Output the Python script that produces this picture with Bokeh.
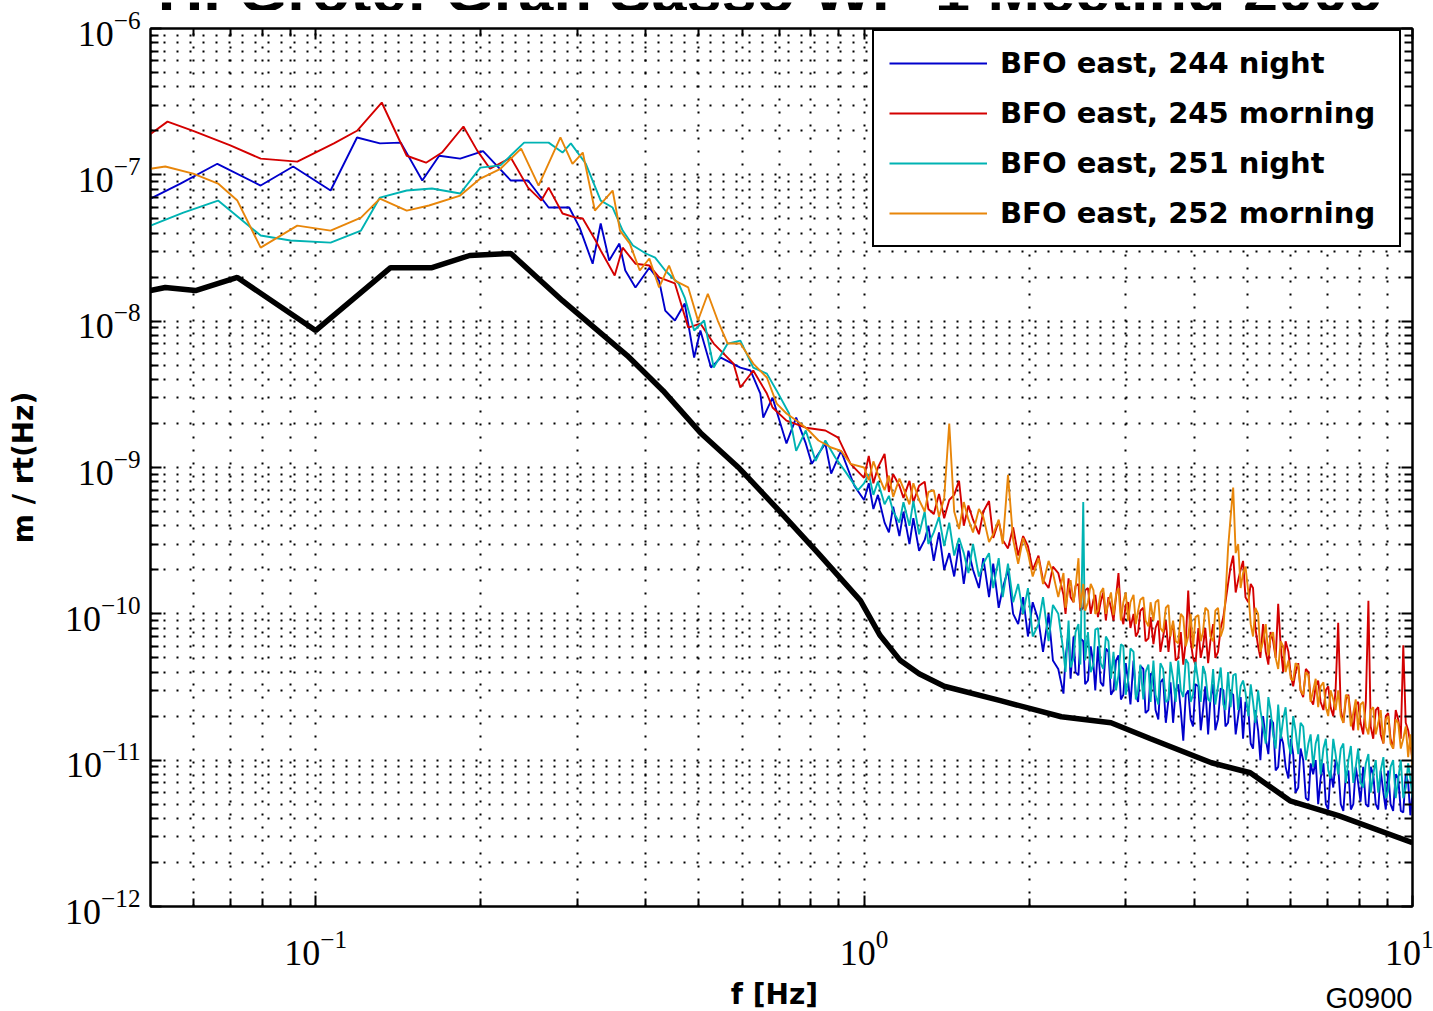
from bokeh.plotting import figure
from bokeh.layouts import column
from bokeh.models import (Range1d, LogAxis, FixedTicker, Label, Legend, LegendItem,
                          CustomJSTickFormatter)
from bokeh.embed import file_html
from bokeh.resources import INLINE

# ---------------- data ----------------
series_labels = ["BFO east, 244 night", "BFO east, 245 morning",
                 "BFO east, 251 night", "BFO east, 252 morning"]

freq_lo_244 = [0.050, 0.0567, 0.0662, 0.0794, 0.091, 0.1065, 0.119, 0.131, 0.143, 0.1565,
               0.168, 0.1835, 0.202, 0.227, 0.244, 0.266, 0.290, 0.303, 0.320, 0.331,
               0.343, 0.358, 0.367, 0.383, 0.406, 0.423, 0.434, 0.452, 0.471, 0.490,
               0.503, 0.526, 0.548, 0.595, 0.621, 0.647, 0.655, 0.681, 0.722, 0.752,
               0.783, 0.803, 0.850, 0.871, 0.908, 0.960]
amp_lo_244 = [6.88e-8, 8.72e-8, 1.19e-7, 8.45e-8, 1.14e-7, 7.81e-8, 1.8e-7, 1.64e-7, 1.66e-7, 9.14e-8,
              1.35e-7, 1.29e-7, 1.45e-7, 9.14e-8, 9.14e-8, 5.98e-8, 5.98e-8, 4.36e-8, 2.47e-8, 4.65e-8,
              2.6e-8, 3.39e-8, 2.22e-8, 1.7e-8, 2.32e-8, 1.89e-8, 1.18e-8, 1.01e-8, 1.32e-8, 5.64e-9,
              8.63e-9, 4.82e-9, 5.64e-9, 4.82e-9, 4.6e-9, 3.2e-9, 2.19e-9, 3.0e-9, 1.46e-9, 2.19e-9,
              1.46e-9, 1.06e-9, 1.46e-9, 9.08e-10, 1.3e-9, 7.5e-10]

freq_lo_245 = [0.050, 0.0537, 0.0598, 0.0699, 0.0794, 0.0926, 0.108, 0.119, 0.132, 0.1466,
               0.159, 0.170, 0.186, 0.197, 0.208, 0.227, 0.244, 0.258, 0.266, 0.282,
               0.298, 0.307, 0.324, 0.331, 0.351, 0.363, 0.383, 0.406, 0.423, 0.452,
               0.478, 0.503, 0.532, 0.578, 0.595, 0.628, 0.665, 0.681, 0.722, 0.783,
               0.850, 0.897, 0.945]
amp_lo_245 = [1.9e-7, 2.31e-7, 2.0e-7, 1.59e-7, 1.29e-7, 1.23e-7, 1.64e-7, 2.0e-7, 3.12e-7, 1.35e-7,
              1.21e-7, 1.42e-7, 2.14e-7, 1.47e-7, 1.10e-7, 1.31e-7, 8.18e-8, 6.67e-8, 8.18e-8, 5.44e-8,
              5.1e-8, 5.03e-8, 3.56e-8, 3.04e-8, 2.05e-8, 3.18e-8, 2.47e-8, 2.4e-8, 1.99e-8, 1.81e-8,
              9.04e-9, 9.63e-9, 7.03e-9, 5.13e-9, 3.52e-9, 4.6e-9, 3.2e-9, 2.57e-9, 2.09e-9, 1.87e-9,
              1.79e-9, 1.6e-9, 1.06e-9]

freq_lo_251 = [0.050, 0.0574, 0.0664, 0.0794, 0.090, 0.1065, 0.121, 0.131, 0.1466, 0.163,
               0.1835, 0.1997, 0.2173, 0.240, 0.266, 0.282, 0.292, 0.311, 0.331, 0.348,
               0.363, 0.379, 0.400, 0.416, 0.434, 0.459, 0.471, 0.490, 0.511, 0.532,
               0.564, 0.595, 0.628, 0.665, 0.693, 0.730, 0.752, 0.783, 0.816, 0.850,
               0.886, 0.922, 0.975]
amp_lo_251 = [4.5e-8, 5.52e-8, 6.67e-8, 3.85e-8, 3.56e-8, 3.44e-8, 4.16e-8, 6.99e-8, 7.81e-8, 8.06e-8,
              7.45e-8, 1.12e-7, 1.16e-7, 1.66e-7, 1.66e-7, 1.42e-7, 1.64e-7, 1.19e-7, 6.67e-8, 5.98e-8,
              4.16e-8, 3.29e-8, 2.9e-8, 2.72e-8, 2.22e-8, 1.81e-8, 1.45e-8, 8.63e-9, 1.01e-8, 4.82e-9,
              7.03e-9, 7.37e-9, 4.82e-9, 4.38e-9, 3.35e-9, 2.34e-9, 1.3e-9, 1.79e-9, 1.11e-9, 1.53e-9,
              1.17e-9, 9.52e-10, 7.0e-10]

freq_lo_252 = [0.050, 0.0532, 0.0598, 0.0664, 0.072, 0.0794, 0.0926, 0.1065, 0.121, 0.131,
               0.1466, 0.161, 0.1835, 0.1997, 0.2173, 0.237, 0.255, 0.2795, 0.294, 0.307,
               0.323, 0.348, 0.359, 0.374, 0.390, 0.406, 0.423, 0.441, 0.452, 0.478,
               0.498, 0.519, 0.541, 0.564, 0.595, 0.628, 0.665, 0.693, 0.722, 0.766,
               0.793, 0.826, 0.871, 0.908, 0.945]
amp_lo_252 = [1.10e-7, 1.14e-7, 1.02e-7, 8.72e-8, 6.67e-8, 3.18e-8, 4.5e-8, 4.16e-8, 5.1e-8, 6.88e-8,
              5.7e-8, 6.17e-8, 7.22e-8, 9.43e-8, 1.10e-7, 1.51e-7, 8.45e-8, 1.8e-7, 1.19e-7, 1.42e-7,
              5.7e-8, 7.81e-8, 4.16e-8, 3.39e-8, 2.22e-8, 2.68e-8, 1.7e-8, 2.4e-8, 1.89e-8, 1.7e-8,
              1.01e-8, 1.54e-8, 1.01e-8, 7.03e-9, 7.03e-9, 5.13e-9, 4.12e-9, 2.73e-9, 2.34e-9, 2.0e-9,
              1.79e-9, 1.53e-9, 1.37e-9, 1.3e-9, 1.06e-9]

freq_hi = [1.00, 1.02, 1.04, 1.06, 1.09, 1.11, 1.13, 1.16, 1.18, 1.21,
           1.23, 1.26, 1.29, 1.31, 1.34, 1.37, 1.40, 1.43, 1.46, 1.49,
           1.52, 1.55, 1.58, 1.62, 1.65, 1.69, 1.72, 1.76, 1.79, 1.83,
           1.87, 1.91, 1.95, 1.99, 2.03, 2.08, 2.12, 2.17, 2.21, 2.26,
           2.31, 2.36, 2.41, 2.46, 2.51, 2.56, 2.62, 2.67, 2.73, 2.79,
           2.85, 2.91, 2.97, 3.03, 3.10, 3.16, 3.23, 3.30, 3.37, 3.44,
           3.51, 3.59, 3.66, 3.74, 3.82, 3.90, 3.98, 4.07, 4.15, 4.24,
           4.33, 4.42, 4.52, 4.61, 4.71, 4.81, 4.91, 5.02, 5.12, 5.23,
           5.34, 5.46, 5.57, 5.69, 5.81, 5.94, 6.06, 6.19, 6.32, 6.46,
           6.59, 6.73, 6.88, 7.02, 7.17, 7.32, 7.48, 7.64, 7.80, 7.96,
           8.13, 8.31, 8.48, 8.66, 8.85, 9.03, 9.22, 9.42, 9.62, 9.82,
           10.0]

amp_hi_244 = [6.0e-10, 7.8e-10, 5.2e-10, 6.5e-10, 4.2e-10, 3.6e-10, 5.4e-10, 3.4e-10, 5.0e-10, 3.0e-10,
              4.5e-10, 2.7e-10, 3.2e-10, 4.0e-10, 2.3e-10, 3.6e-10, 2.0e-10, 2.6e-10, 1.8e-10, 3.0e-10,
              1.6e-10, 2.7e-10, 2.0e-10, 1.5e-10, 2.4e-10, 1.3e-10, 2.2e-10, 1.1e-10, 1.5e-10, 2.0e-10,
              1.0e-10, 8.5e-11, 1.3e-10, 7.0e-11, 1.2e-10, 9.0e-11, 5.5e-11, 1.0e-10, 4.8e-11, 4.2e-11,
              2.85e-11, 7.5e-11, 7.0e-11, 3.8e-11, 6.5e-11, 3.5e-11, 4.5e-11, 6.0e-11, 3.2e-11, 5.5e-11,
              3.0e-11, 5.2e-11, 2.8e-11, 3.5e-11, 4.8e-11, 2.5e-11, 4.2e-11, 2.2e-11, 3.8e-11, 1.9e-11,
              3.6e-11, 2.6e-11, 1.8e-11, 3.3e-11, 1.36e-11, 3.0e-11, 1.7e-11, 3.2e-11, 2.2e-11, 1.5e-11,
              3.3e-11, 1.9e-11, 3.0e-11, 1.8e-11, 2.8e-11, 2.0e-11, 1.4e-11, 2.2e-11, 1.2e-11, 1.6e-11,
              2.0e-11, 1.1e-11, 1.8e-11, 9.0e-12, 1.3e-11, 7.5e-12, 1.1e-11, 6.5e-12, 1.0e-11, 5.3e-12,
              8.0e-12, 5.0e-12, 9.5e-12, 4.6e-12, 6.5e-12, 9.0e-12, 4.5e-12, 8.5e-12, 5.0e-12, 7.0e-12,
              9.0e-12, 4.8e-12, 8.0e-12, 4.6e-12, 6.0e-12, 8.5e-12, 4.5e-12, 7.5e-12, 4.4e-12, 7.0e-12,
              6.0e-12]

amp_hi_245 = [8.5e-10, 1.2e-9, 7.8e-10, 1.0e-9, 1.24e-9, 6.8e-10, 9.0e-10, 7.5e-10, 6.2e-10, 8.1e-10,
              5.8e-10, 7.5e-10, 8.0e-10, 5.2e-10, 4.8e-10, 6.6e-10, 4.5e-10, 6.0e-10, 6.5e-10, 8.1e-10,
              4.0e-10, 5.5e-10, 4.4e-10, 3.5e-10, 5.0e-10, 5.9e-10, 3.3e-10, 4.3e-10, 3.2e-10, 2.8e-10,
              3.9e-10, 2.5e-10, 3.4e-10, 2.9e-10, 2.0e-10, 2.5e-10, 1.7e-10, 1.5e-10, 2.1e-10, 1.9e-10,
              1.35e-10, 1.75e-10, 1.2e-10, 1.6e-10, 1.1e-10, 1.5e-10, 1.25e-10, 9.5e-11, 1.4e-10, 1.3e-10,
              9.0e-11, 1.9e-10, 8.5e-11, 1.2e-10, 1.0e-10, 7.5e-11, 1.1e-10, 6.8e-11, 6.2e-11, 9.0e-11,
              7.0e-11, 5.5e-11, 8.5e-11, 5.0e-11, 4.5e-11, 1.44e-10, 5.0e-11, 8.0e-11, 6.0e-11, 4.6e-11,
              8.5e-11, 5.5e-11, 9.5e-11, 1.6e-10, 2.5e-10, 1.7e-10, 2.3e-10, 1.2e-10, 1.5e-10, 6.0e-11,
              8.5e-11, 4.5e-11, 6.5e-11, 1.17e-10, 4.0e-11, 5.5e-11, 3.2e-11, 4.6e-11, 2.7e-11, 4.0e-11,
              2.4e-11, 3.5e-11, 2.2e-11, 3.2e-11, 2.0e-11, 8.7e-11, 1.8e-11, 2.8e-11, 1.6e-11, 2.5e-11,
              1.5e-11, 1.23e-10, 1.4e-11, 2.3e-11, 1.3e-11, 2.1e-11, 1.2e-11, 1.9e-11, 6.1e-11, 1.6e-11,
              1.0e-11]

amp_hi_251 = [7.8e-10, 9.0e-10, 6.5e-10, 8.0e-10, 5.6e-10, 6.4e-10, 5.0e-10, 4.2e-10, 5.8e-10, 4.0e-10,
              5.9e-10, 3.5e-10, 5.0e-10, 3.0e-10, 3.6e-10, 4.6e-10, 2.9e-10, 4.2e-10, 2.5e-10, 3.3e-10,
              2.6e-10, 1.9e-10, 3.0e-10, 1.8e-10, 2.2e-10, 2.6e-10, 1.5e-10, 2.4e-10, 1.3e-10, 2.2e-10,
              1.2e-10, 1.6e-10, 1.0e-10, 1.5e-10, 7.0e-11, 8.5e-11, 1.3e-10, 6.5e-11, 1.15e-10, 1.0e-10,
              5.5e-11, 9.0e-11, 5.0e-11, 8.5e-11, 5.8e-10, 7.5e-11, 4.5e-11, 8.0e-11, 4.2e-11, 6.5e-11,
              5.5e-11, 3.8e-11, 6.0e-11, 3.5e-11, 5.5e-11, 3.0e-11, 2.6e-11, 4.5e-11, 4.8e-11, 2.4e-11,
              4.2e-11, 2.6e-11, 3.6e-11, 4.8e-11, 2.7e-11, 4.6e-11, 2.8e-11, 3.4e-11, 4.4e-11, 2.6e-11,
              4.2e-11, 3.2e-11, 2.4e-11, 4.0e-11, 3.8e-11, 2.2e-11, 3.5e-11, 2.0e-11, 2.5e-11, 3.0e-11,
              1.7e-11, 2.7e-11, 1.5e-11, 2.4e-11, 1.9e-11, 1.3e-11, 2.0e-11, 1.1e-11, 1.7e-11, 1.3e-11,
              9.0e-12, 1.5e-11, 1.2e-11, 8.5e-12, 1.4e-11, 8.0e-12, 1.3e-11, 1.0e-11, 7.0e-12, 1.2e-11,
              6.5e-12, 1.1e-11, 8.0e-12, 6.0e-12, 1.05e-11, 6.2e-12, 1.0e-11, 7.5e-12, 5.5e-12, 9.5e-12,
              5.5e-12]

amp_hi_252 = [1.0e-9, 8.2e-10, 1.1e-9, 9.0e-10, 7.0e-10, 8.8e-10, 6.3e-10, 8.4e-10, 7.2e-10, 5.6e-10,
              7.8e-10, 6.0e-10, 5.0e-10, 6.8e-10, 7.0e-10, 4.6e-10, 6.2e-10, 2.0e-9, 5.0e-10, 3.8e-10,
              5.8e-10, 4.4e-10, 3.6e-10, 5.2e-10, 4.6e-10, 3.1e-10, 3.5e-10, 4.4e-10, 3.0e-10, 8.9e-10,
              3.2e-10, 2.2e-10, 3.3e-10, 2.6e-10, 1.8e-10, 2.4e-10, 1.6e-10, 2.3e-10, 1.9e-10, 1.3e-10,
              1.9e-10, 1.5e-10, 1.2e-10, 2.4e-10, 1.6e-10, 1.2e-10, 1.45e-10, 1.05e-10, 1.5e-10, 1.2e-10,
              9.8e-11, 1.5e-10, 1.2e-10, 9.0e-11, 1.35e-10, 1.05e-10, 1.3e-10, 8.2e-11, 9.0e-11, 1.25e-10,
              7.5e-11, 1.15e-10, 9.0e-11, 6.3e-11, 9.5e-11, 7.0e-11, 5.8e-11, 9.8e-11, 7.5e-11, 1.05e-10,
              6.5e-11, 1.1e-10, 8.0e-11, 2.8e-10, 7.3e-10, 3.0e-10, 1.9e-10, 1.4e-10, 7.0e-11, 1.0e-10,
              6.5e-11, 5.2e-11, 7.5e-11, 4.2e-11, 6.0e-11, 4.8e-11, 3.5e-11, 4.4e-11, 2.8e-11, 3.8e-11,
              3.0e-11, 2.3e-11, 3.4e-11, 2.0e-11, 2.6e-11, 3.0e-11, 1.8e-11, 2.7e-11, 2.1e-11, 1.6e-11,
              2.5e-11, 1.5e-11, 2.3e-11, 1.8e-11, 1.3e-11, 2.0e-11, 1.2e-11, 1.8e-11, 1.4e-11, 1.05e-11,
              9.0e-12]

# extra (denser) samples between 2.3 and 10 Hz
freq_mid = [2.33, 2.38, 2.43, 2.48, 2.53, 2.59, 2.64, 2.70, 2.76, 2.82,
            2.88, 2.94, 3.00, 3.06, 3.13, 3.19, 3.26, 3.33, 3.40, 3.47,
            3.55, 3.62, 3.70, 3.78, 3.86, 3.94, 4.02, 4.11, 4.19, 4.28,
            4.37, 4.47, 4.56, 4.66, 4.76, 4.86, 4.96, 5.07, 5.17, 5.28,
            5.40, 5.51, 5.63, 5.75, 5.87, 6.00, 6.12, 6.25, 6.39, 6.52,
            6.66, 6.80, 6.95, 7.09, 7.24, 7.40, 7.56, 7.72, 7.88, 8.04,
            8.22, 8.39, 8.57, 8.75, 8.94, 9.12, 9.32, 9.52, 9.72, 9.91]

amp_mid_244 = [5.0e-11, 3.6e-11, 4.0e-11, 6.8e-11, 3.3e-11, 6.0e-11, 3.0e-11, 3.4e-11, 5.8e-11, 2.8e-11,
               4.8e-11, 2.6e-11, 4.6e-11, 2.4e-11, 2.8e-11, 4.4e-11, 2.1e-11, 3.9e-11, 2.2e-11, 3.4e-11,
               1.8e-11, 3.4e-11, 3.0e-11, 2.2e-11, 2.8e-11, 1.9e-11, 3.3e-11, 1.6e-11, 3.2e-11, 2.6e-11,
               1.6e-11, 3.1e-11, 1.7e-11, 2.9e-11, 1.5e-11, 2.7e-11, 2.5e-11, 1.3e-11, 2.2e-11, 1.0e-11,
               1.4e-11, 1.9e-11, 8.5e-12, 1.5e-11, 9.0e-12, 1.4e-11, 6.0e-12, 1.2e-11, 5.5e-12, 9.5e-12,
               1.0e-11, 7.5e-12, 5.0e-12, 8.5e-12, 1.0e-11, 5.0e-12, 8.0e-12, 4.6e-12, 9.0e-12, 5.2e-12,
               5.0e-12, 9.0e-12, 5.0e-12, 8.5e-12, 4.6e-12, 5.0e-12, 8.0e-12, 4.5e-12, 8.0e-12, 4.2e-12]

amp_mid_245 = [1.0e-10, 1.3e-10, 1.55e-10, 1.05e-10, 1.45e-10, 1.0e-10, 1.35e-10, 1.2e-10, 9.0e-11, 1.1e-10,
               1.3e-10, 1.0e-10, 1.15e-10, 8.0e-11, 7.0e-11, 1.05e-10, 6.5e-11, 9.5e-11, 8.0e-11, 5.5e-11,
               9.0e-11, 7.5e-11, 4.8e-11, 7.5e-11, 6.5e-11, 6.5e-11, 4.5e-11, 5.0e-11, 8.0e-11, 6.5e-11,
               5.0e-11, 8.0e-11, 1.2e-10, 2.1e-10, 1.4e-10, 2.0e-10, 1.3e-10, 1.6e-10, 8.0e-11, 5.0e-11,
               5.5e-11, 7.5e-11, 5.0e-11, 6.0e-11, 6.5e-11, 3.8e-11, 4.0e-11, 3.0e-11, 4.2e-11, 2.6e-11,
               3.2e-11, 2.5e-11, 3.0e-11, 2.3e-11, 3.0e-11, 2.2e-11, 2.6e-11, 2.0e-11, 2.4e-11, 1.8e-11,
               2.5e-11, 1.7e-11, 2.2e-11, 1.5e-11, 2.0e-11, 1.4e-11, 2.2e-11, 1.4e-11, 1.8e-11, 1.3e-11]

amp_mid_251 = [4.0e-11, 4.3e-11, 7.5e-11, 4.5e-11, 4.8e-11, 4.0e-11, 7.8e-11, 4.6e-11, 7.0e-11, 3.6e-11,
               3.0e-11, 6.2e-11, 2.8e-11, 5.8e-11, 2.6e-11, 4.5e-11, 4.0e-11, 2.5e-11, 2.8e-11, 4.6e-11,
               2.5e-11, 4.7e-11, 2.5e-11, 3.0e-11, 4.9e-11, 2.5e-11, 4.7e-11, 2.5e-11, 3.9e-11, 2.5e-11,
               2.4e-11, 4.3e-11, 2.2e-11, 2.3e-11, 3.9e-11, 3.2e-11, 2.9e-11, 3.3e-11, 1.8e-11, 2.2e-11,
               1.3e-11, 2.2e-11, 1.2e-11, 1.4e-11, 2.3e-11, 1.1e-11, 1.6e-11, 1.8e-11, 1.0e-11, 1.5e-11,
               1.3e-11, 8.0e-12, 1.4e-11, 7.5e-12, 1.1e-11, 1.2e-11, 7.0e-12, 1.25e-11, 9.0e-12, 7.0e-12,
               9.5e-12, 6.0e-12, 1.0e-11, 8.5e-12, 5.5e-12, 9.0e-12, 5.5e-12, 1.0e-11, 6.5e-12, 7.5e-12]

amp_mid_252 = [1.1e-10, 1.7e-10, 1.5e-10, 1.1e-10, 1.05e-10, 1.6e-10, 1.0e-10, 1.4e-10, 1.0e-10, 1.4e-10,
               1.35e-10, 9.0e-11, 1.4e-10, 1.2e-10, 8.5e-11, 1.25e-10, 9.0e-11, 1.2e-10, 1.2e-10, 8.0e-11,
               1.1e-10, 7.0e-11, 6.5e-11, 1.0e-10, 6.0e-11, 1.0e-10, 9.5e-11, 6.5e-11, 1.1e-10, 7.0e-11,
               1.05e-10, 7.0e-11, 1.3e-10, 4.6e-10, 2.6e-10, 1.5e-10, 2.1e-10, 8.5e-11, 1.1e-10, 5.5e-11,
               8.5e-11, 7.0e-11, 5.0e-11, 6.5e-11, 4.0e-11, 3.6e-11, 4.6e-11, 3.0e-11, 4.0e-11, 2.5e-11,
               3.6e-11, 3.2e-11, 2.3e-11, 3.0e-11, 2.2e-11, 2.0e-11, 2.8e-11, 1.7e-11, 2.6e-11, 2.4e-11,
               1.7e-11, 2.2e-11, 1.5e-11, 2.2e-11, 1.9e-11, 1.3e-11, 1.9e-11, 1.2e-11, 1.7e-11, 1.5e-11]

freq_ref = [0.050, 0.0532, 0.0604, 0.072, 0.100, 0.137, 0.163, 0.191, 0.227, 0.282,
            0.37, 0.43, 0.503, 0.593, 0.70, 0.826, 0.985, 1.07, 1.165, 1.26,
            1.40, 1.773, 2.29, 2.82, 3.33, 4.3, 5.06, 5.98, 7.33, 10.0]
amp_ref = [1.62e-8, 1.70e-8, 1.62e-8, 1.99e-8, 8.63e-9, 2.32e-8, 2.32e-8, 2.81e-8, 2.9e-8, 1.38e-8,
           5.82e-9, 3.35e-9, 1.73e-9, 9.83e-10, 5.07e-10, 2.58e-10, 1.23e-10, 7.1e-11, 4.79e-11, 3.9e-11,
           3.2e-11, 2.55e-11, 1.98e-11, 1.80e-11, 1.40e-11, 9.6e-12, 8.2e-12, 5.28e-12, 4.18e-12, 2.73e-12]

x_major_ticks = [0.1, 1.0, 10.0]
y_major_ticks = [1e-12, 1e-11, 1e-10, 1e-9, 1e-8, 1e-7, 1e-6]

title_text = "H. Grote: Gran Sasso WP-1 Meeting 2009"
x_label = "f [Hz]"
y_label = "m / rt(Hz)"
doc_id = "G0900"

# ---------------- layout constants ----------------
W = 1433
TOP_H, BOT_H = 10, 34
MAIN_H = 1011 - TOP_H - BOT_H
FL, FR = 150, 1412                      # frame left / right (canvas px)
FT, FB = 28 - TOP_H, 906 - TOP_H        # frame top / bottom inside main figure
X0, X1 = 0.05, 10.0
Y0, Y1 = 1e-12, 1e-6

def strip(height):
    # text strip whose frame is aligned with the main plot frame (x in canvas px)
    s = figure(width=W, height=height, x_range=Range1d(FL, FR), y_range=Range1d(height, 0),
               x_axis_location=None, y_axis_location=None, toolbar_location=None,
               output_backend="svg", min_border_left=FL, min_border_right=W - FR,
               min_border_top=0, min_border_bottom=0)
    s.outline_line_color = None
    s.grid.visible = False
    return s

# ---- top strip: the title, cut by the page edge as in the reference ----
top = strip(TOP_H)
top.add_layout(Label(x=770, y=-13, text=title_text, text_align="center", text_baseline="middle",
                     text_font="Liberation Sans", text_font_style="bold", text_font_size="63px",
                     text_color="black"))

# ---- main plot ----
p = figure(width=W, height=MAIN_H, x_axis_type="log", y_axis_type="log",
           x_range=Range1d(X0, X1), y_range=Range1d(Y0, Y1),
           output_backend="svg", toolbar_location=None,
           min_border_left=FL, min_border_right=W - FR,
           min_border_top=FT, min_border_bottom=MAIN_H - FB)
p.background_fill_color = "white"
p.border_fill_color = "white"
p.outline_line_color = "black"
p.outline_line_width = 2

x_minor = [k * 10.0 ** e for e in (-2, -1, 0) for k in range(2, 10) if X0 < k * 10.0 ** e < X1]
y_minor = [k * 10.0 ** e for e in range(-12, -6) for k in range(2, 10)]
xt = FixedTicker(ticks=x_major_ticks, minor_ticks=x_minor)
yt = FixedTicker(ticks=y_major_ticks, minor_ticks=y_minor)

p.add_layout(LogAxis(), "above")
p.add_layout(LogAxis(), "right")

def style_axis(ax, ticker, labelled):
    ax.ticker = ticker
    ax.major_tick_in = 11
    ax.major_tick_out = 0
    ax.minor_tick_in = 8
    ax.minor_tick_out = 0
    ax.major_tick_line_color = "black"
    ax.major_tick_line_width = 2
    ax.minor_tick_line_color = "black"
    ax.minor_tick_line_width = 2
    ax.axis_line_color = "black"
    ax.axis_line_width = 2
    if labelled:
        ax.major_label_text_font = "Liberation Serif"
        ax.major_label_text_font_size = "36px"
        ax.major_label_text_color = "black"
    else:
        ax.formatter = CustomJSTickFormatter(code="return ''")
        ax.major_label_text_font_size = "1px"
        ax.major_label_standoff = 0

for ax in p.below:
    style_axis(ax, xt, True)
    ax.major_label_standoff = 24
for ax in p.above:
    style_axis(ax, xt, False)
for ax in p.left:
    style_axis(ax, yt, True)
    ax.major_label_standoff = 10
    ax.axis_label = y_label
    ax.axis_label_text_font = "DejaVu Sans"
    ax.axis_label_text_font_style = "bold"
    ax.axis_label_text_font_size = "28px"
    ax.axis_label_text_color = "black"
    ax.axis_label_standoff = 22
for ax in p.right:
    style_axis(ax, yt, False)

for g, t in ((p.xgrid[0], xt), (p.ygrid[0], yt)):
    g.ticker = t
    g.grid_line_color = "black"
    g.grid_line_dash = "2 11"
    g.grid_line_width = 2
    g.minor_grid_line_color = "black"
    g.minor_grid_line_dash = "2 11"
    g.minor_grid_line_width = 2

colors = ["#0000CC", "#D40000", "#00B3B3", "#E8860A"]
lows = [(freq_lo_244, amp_lo_244), (freq_lo_245, amp_lo_245),
        (freq_lo_251, amp_lo_251), (freq_lo_252, amp_lo_252)]
highs = [amp_hi_244, amp_hi_245, amp_hi_251, amp_hi_252]
mids = [amp_mid_244, amp_mid_245, amp_mid_251, amp_mid_252]

renderers = []
for (fl, al), ah, am, c in zip(lows, highs, mids, colors):
    pts = list(zip(fl, al)) + list(zip(freq_hi, ah)) + list(zip(freq_mid, am))
    pts.sort(key=lambda t: t[0])
    renderers.append(p.line([t[0] for t in pts], [t[1] for t in pts],
                            line_color=c, line_width=1.9))

p.line(freq_ref, amp_ref, line_color="black", line_width=5.5)

legend = Legend(items=[LegendItem(label=l, renderers=[r]) for l, r in zip(series_labels, renderers)],
                location=(872 - FL, FB - (247 - TOP_H)),
                border_line_color="black", border_line_width=2, border_line_alpha=1.0,
                background_fill_color="white", background_fill_alpha=1.0,
                label_text_font="DejaVu Sans", label_text_font_style="bold",
                label_text_font_size="29px", label_text_baseline="alphabetic",
                label_text_color="black",
                glyph_width=98, glyph_height=34, label_height=34, label_width=384,
                spacing=16, padding=15, label_standoff=13, margin=0)
p.add_layout(legend)

# ---- bottom strip: x-axis title and document number ----
bot = strip(BOT_H)
bot.add_layout(Label(x=774, y=17, text=x_label, text_align="center", text_baseline="middle",
                     text_font="DejaVu Sans", text_font_style="bold", text_font_size="28px",
                     text_color="black"))
bot.add_layout(Label(x=FR, y=20, text=doc_id, text_align="right", text_baseline="middle",
                     text_font="Liberation Sans", text_font_size="29px", text_color="black"))

layout = column(top, p, bot, spacing=0)
open("out.html", "w").write(file_html(layout, INLINE))
